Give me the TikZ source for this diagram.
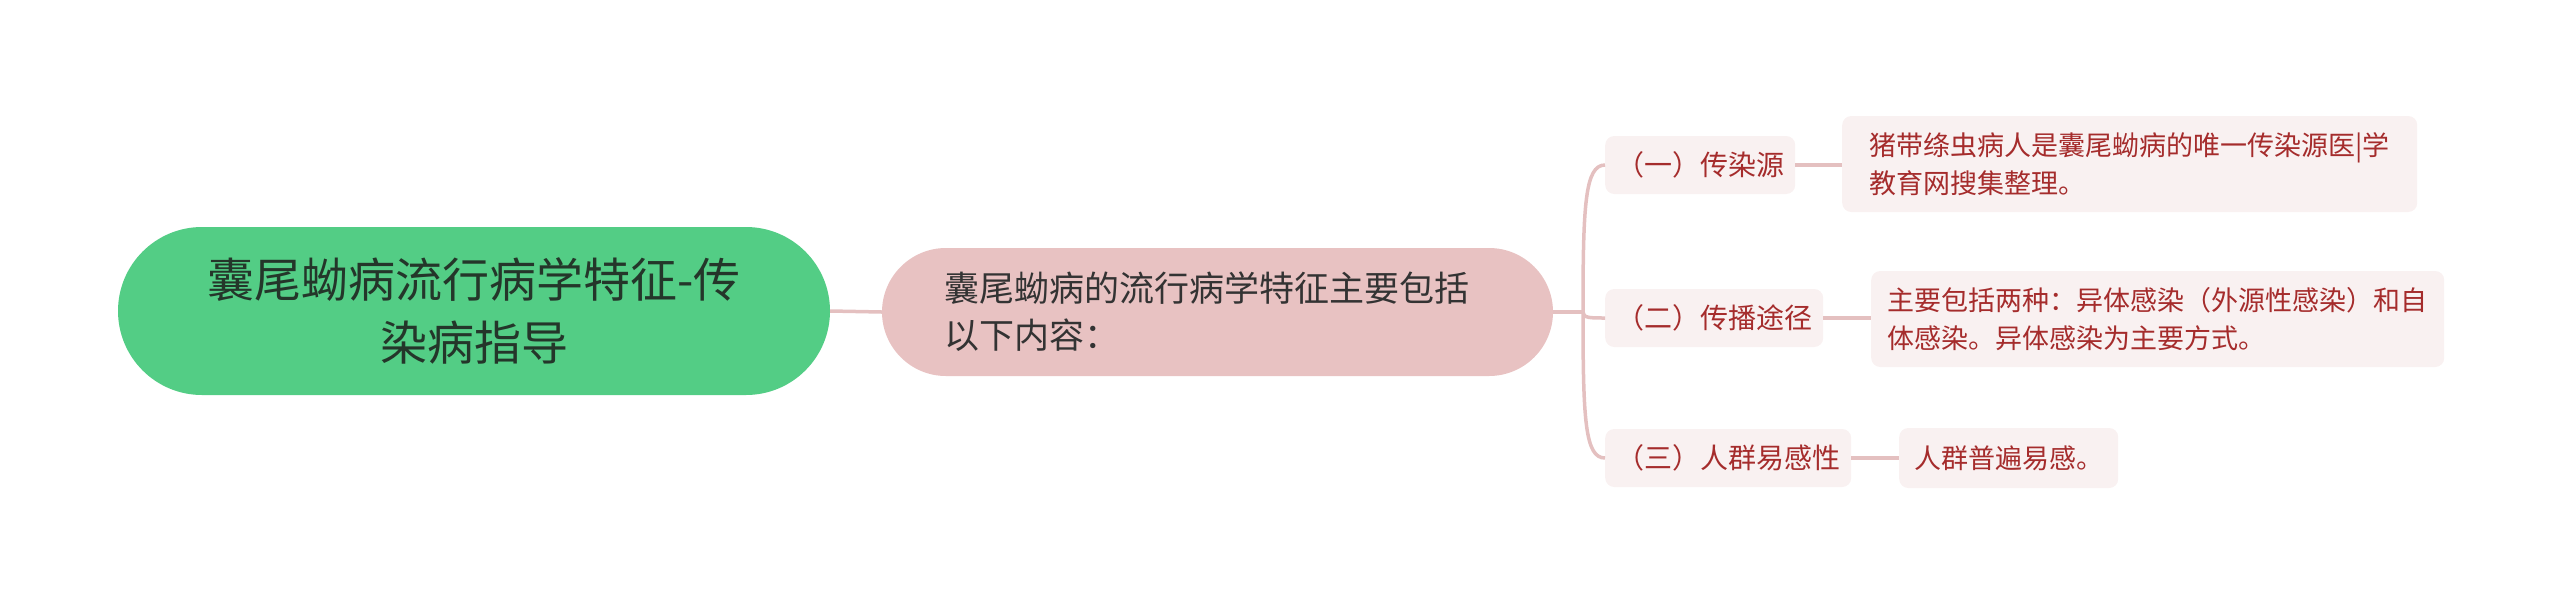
\documentclass[tikz,border=0pt]{standalone}
\usepackage{fontspec}
\setmainfont{Noto Sans CJK SC}
\definecolor{rootfill}{HTML}{53CD85}
\definecolor{roottext}{HTML}{24362A}
\definecolor{mainfill}{HTML}{E8C2C2}
\definecolor{maintext}{HTML}{333333}
\definecolor{subfill}{HTML}{F9F1F1}
\definecolor{subtext}{HTML}{A52C2C}
\definecolor{linkcol}{HTML}{E4C0C0}
\tikzset{
  x=1pt,y=1pt,
  rootbox/.style={fill=rootfill,text=roottext,rounded corners=84pt,minimum width=712pt,minimum height=168pt,align=center,inner sep=0pt,font=\fontsize{47}{63}\selectfont},
  mainbox/.style={fill=mainfill,text=maintext,rounded corners=64pt,minimum width=671pt,minimum height=128pt,text width=547pt,inner xsep=62pt,inner ysep=0pt,align=left,font=\fontsize{35}{47}\selectfont},
  childbox/.style={fill=subfill,text=subtext,rounded corners=9pt,anchor=west,minimum height=58pt,inner xsep=11pt,inner ysep=0pt,font=\fontsize{28}{38}\selectfont},
  leafbox/.style={fill=subfill,text=subtext,rounded corners=9pt,anchor=west,inner sep=0pt,align=left,font=\fontsize{27}{38}\selectfont},
  link/.style={draw=linkcol,line width=3.5pt}
}
\begin{document}
\begin{tikzpicture}
\useasboundingbox (0,0) rectangle (2560,-606);
\node[rootbox] (root) at (474,-311) {囊尾蚴病流行病学特征-传\\染病指导};
\node[mainbox] (main) at (1217.5,-312) {囊尾蚴病的流行病学特征主要包括\\以下内容：};
\node[childbox] (c1) at (1605,-165) {（一）传染源};
\node[childbox] (c2) at (1605,-318) {（二）传播途径};
\node[childbox] (c3) at (1605,-458) {（三）人群易感性};
\node[leafbox,minimum width=575pt,minimum height=96pt] (l1) at (1842,-164) {猪带绦虫病人是囊尾蚴病的唯一传染源医|学\\教育网搜集整理。};
\node[leafbox,minimum width=573pt,minimum height=96pt] (l2) at (1871,-319) {主要包括两种：异体感染（外源性感染）和自\\体感染。异体感染为主要方式。};
\node[leafbox,minimum width=219pt,minimum height=60pt] (l3) at (1899,-458) {人群普遍易感。};
\coordinate (j) at (1583,-312);
\begin{scope}[on background layer/.try]
\draw[link] (root.east) -- (main.west);
\draw[link] (main.east) -- (j);
\draw[link] (j) .. controls (1583,-205) and (1585,-165) .. (c1.west);
\draw[link] (j) .. controls (1583,-318) and (1590,-318) .. (c2.west);
\draw[link] (j) .. controls (1583,-420) and (1585,-458) .. (c3.west);
\draw[link] (c1.east) -- (l1.west |- c1.east);
\draw[link] (c2.east) -- (l2.west |- c2.east);
\draw[link] (c3.east) -- (l3.west);
\end{scope}
\end{tikzpicture}
\end{document}
